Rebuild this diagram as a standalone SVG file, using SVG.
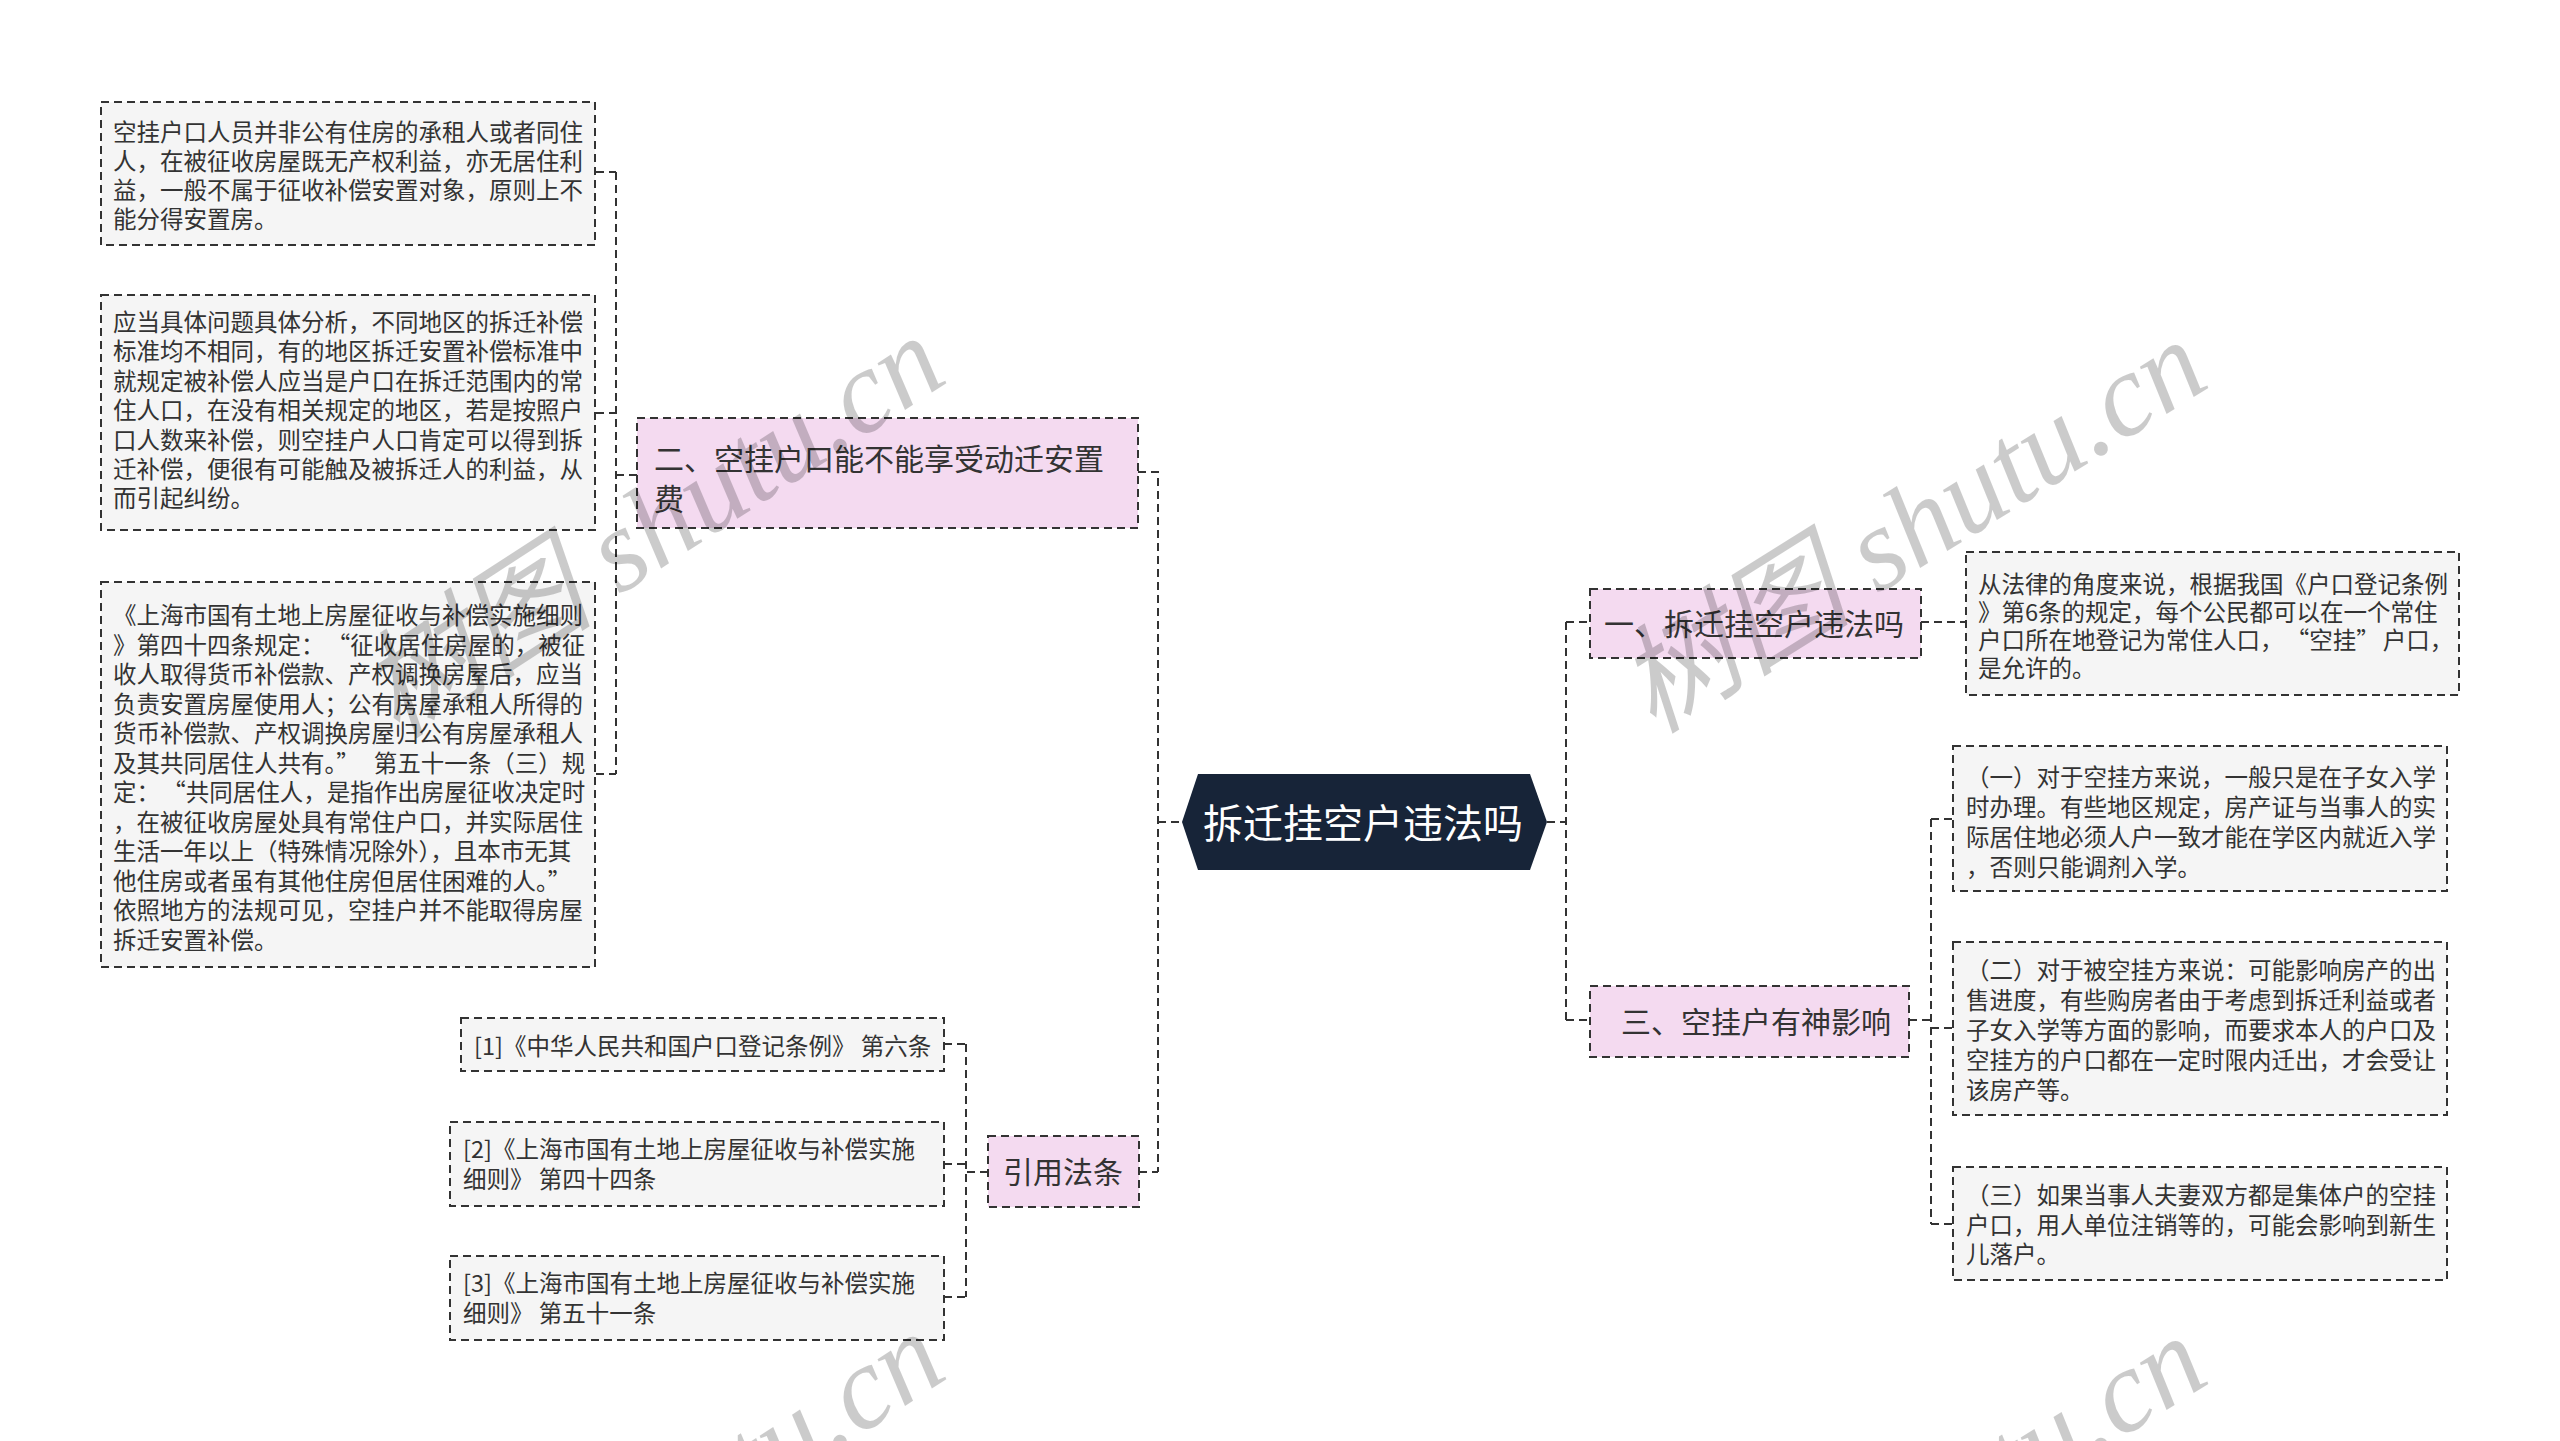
<svg xmlns="http://www.w3.org/2000/svg" width="2560" height="1441" viewBox="0 0 2560 1441">
<style>
.box{fill:#f5f5f5;stroke:#333;stroke-width:2;stroke-dasharray:8 5}
.pink{fill:#f4daf0;stroke:#333;stroke-width:2;stroke-dasharray:8 5}
.root{fill:#172438}
.t{font-family:"Noto Sans CJK SC","Liberation Sans",sans-serif;font-size:23.5px;fill:#333}
.h{font-family:"Noto Sans CJK SC","Liberation Sans",sans-serif;font-size:30px;fill:#333}
.rt{font-family:"Noto Sans CJK SC","Liberation Sans",sans-serif;font-size:40px;fill:#fff}
.con{fill:none;stroke:#333;stroke-width:2;stroke-dasharray:8 5}
.wm{font-family:"Liberation Serif","Noto Sans CJK SC",serif;font-style:italic;font-size:118px;fill:#000;opacity:0.2}
</style>
<rect width="2560" height="1441" fill="#fff"/>
<g id="connectors">
<path class="con" d="M637 475H616M616 172V774M596 172H616M596 413H616M596 774H616"/>
<path class="con" d="M1138 472H1158V1172M1158 822H1182M1139 1172H1158"/>
<path class="con" d="M988 1172H966M966 1044V1297M944 1044H966M944 1164H966M944 1297H966"/>
<path class="con" d="M1547 822H1566M1566 622V1020M1566 622H1590M1566 1020H1590"/>
<path class="con" d="M1921 622H1966"/>
<path class="con" d="M1909 1020H1931M1931 819V1224M1931 819H1953M1931 1028H1953M1931 1224H1953"/>
</g>
<g id="root">
<polygon class="root" points="1182,822 1198,774 1530,774 1547,822 1530,870 1198,870"/>
<text class="rt" x="1363" y="838" text-anchor="middle">拆迁挂空户违法吗</text>
</g>
<g id="n2">
<rect class="pink" x="637" y="418" width="501" height="110"/>
<text class="h" x="654" y="470">二、空挂户口能不能享受动迁安置</text>
<text class="h" x="654" y="510">费</text>
</g>
<g id="n2a">
<rect class="box" x="101" y="102" width="494" height="143"/>
<text class="t" x="113"><tspan x="113" y="141">空挂户口人员并非公有住房的承租人或者同住</tspan><tspan x="113" y="170">人，在被征收房屋既无产权利益，亦无居住利</tspan><tspan x="113" y="199">益，一般不属于征收补偿安置对象，原则上不</tspan><tspan x="113" y="228">能分得安置房。</tspan></text>
</g>
<g id="n2b">
<rect class="box" x="101" y="295" width="494" height="235"/>
<text class="t"><tspan x="113" y="331">应当具体问题具体分析，不同地区的拆迁补偿</tspan><tspan x="113" y="360.4">标准均不相同，有的地区拆迁安置补偿标准中</tspan><tspan x="113" y="389.8">就规定被补偿人应当是户口在拆迁范围内的常</tspan><tspan x="113" y="419.2">住人口，在没有相关规定的地区，若是按照户</tspan><tspan x="113" y="448.6">口人数来补偿，则空挂户人口肯定可以得到拆</tspan><tspan x="113" y="478">迁补偿，便很有可能触及被拆迁人的利益，从</tspan><tspan x="113" y="507.4">而引起纠纷。</tspan></text>
</g>
<g id="n2c">
<rect class="box" x="101" y="582" width="494" height="385"/>
<text class="t"><tspan x="113" y="624">《上海市国有土地上房屋征收与补偿实施细则</tspan><tspan x="113" y="653.5">》第四十四条规定：<tspan dx="14">“</tspan>征收居住房屋的，被征</tspan><tspan x="113" y="683">收人取得货币补偿款、产权调换房屋后，应当</tspan><tspan x="113" y="712.5">负责安置房屋使用人；公有房屋承租人所得的</tspan><tspan x="113" y="742">货币补偿款、产权调换房屋归公有房屋承租人</tspan><tspan x="113" y="771.5">及其共同居住人共有。”<tspan dx="14">第五十一条（三）规</tspan></tspan><tspan x="113" y="801">定：<tspan dx="14">“</tspan>共同居住人，是指作出房屋征收决定时</tspan><tspan x="113" y="830.5">，在被征收房屋处具有常住户口，并实际居住</tspan><tspan x="113" y="860">生活一年以上（特殊情况除外），且本市无其</tspan><tspan x="113" y="889.5">他住房或者虽有其他住房但居住困难的人。”</tspan><tspan x="113" y="919">依照地方的法规可见，空挂户并不能取得房屋</tspan><tspan x="113" y="948.5">拆迁安置补偿。</tspan></text>
</g>
<g id="n4">
<rect class="pink" x="988" y="1136" width="151" height="71"/>
<text class="h" x="1063" y="1183" text-anchor="middle">引用法条</text>
</g>
<g id="r1">
<rect class="box" x="461" y="1018" width="483" height="53"/>
<text class="t" x="474" y="1055">[1]《中华人民共和国户口登记条例》 第六条</text>
</g>
<g id="r2">
<rect class="box" x="450" y="1122" width="494" height="84"/>
<text class="t"><tspan x="463" y="1158">[2]《上海市国有土地上房屋征收与补偿实施</tspan><tspan x="463" y="1188">细则》 第四十四条</tspan></text>
</g>
<g id="r3">
<rect class="box" x="450" y="1256" width="494" height="84"/>
<text class="t"><tspan x="463" y="1292">[3]《上海市国有土地上房屋征收与补偿实施</tspan><tspan x="463" y="1322">细则》 第五十一条</tspan></text>
</g>
<g id="n1">
<rect class="pink" x="1590" y="589" width="331" height="69"/>
<text class="h" x="1604" y="635">一、拆迁挂空户违法吗</text>
</g>
<g id="n1a">
<rect class="box" x="1966" y="552" width="493" height="143"/>
<text class="t"><tspan x="1978" y="593">从法律的角度来说，根据我国《户口登记条例</tspan><tspan x="1978" y="621">》第6条的规定，每个公民都可以在一个常住</tspan><tspan x="1978" y="649">户口所在地登记为常住人口，<tspan dx="14">“</tspan>空挂”<tspan dx="3">户口，</tspan></tspan><tspan x="1978" y="677">是允许的。</tspan></text>
</g>
<g id="n3">
<rect class="pink" x="1590" y="986" width="319" height="71"/>
<text class="h" x="1621" y="1033">三、空挂户有神影响</text>
</g>
<g id="n3a">
<rect class="box" x="1953" y="746" width="494" height="145"/>
<text class="t"><tspan x="1966" y="785.5">（一）对于空挂方来说，一般只是在子女入学</tspan><tspan x="1966" y="815.5">时办理。有些地区规定，房产证与当事人的实</tspan><tspan x="1966" y="845.5">际居住地必须人户一致才能在学区内就近入学</tspan><tspan x="1966" y="875.5">，否则只能调剂入学。</tspan></text>
</g>
<g id="n3b">
<rect class="box" x="1953" y="942" width="494" height="173"/>
<text class="t"><tspan x="1966" y="979">（二）对于被空挂方来说：可能影响房产的出</tspan><tspan x="1966" y="1009">售进度，有些购房者由于考虑到拆迁利益或者</tspan><tspan x="1966" y="1039">子女入学等方面的影响，而要求本人的户口及</tspan><tspan x="1966" y="1069">空挂方的户口都在一定时限内迁出，才会受让</tspan><tspan x="1966" y="1099">该房产等。</tspan></text>
</g>
<g id="n3c">
<rect class="box" x="1953" y="1167" width="494" height="113"/>
<text class="t"><tspan x="1966" y="1204">（三）如果当事人夫妻双方都是集体户的空挂</tspan><tspan x="1966" y="1233.5">户口，用人单位注销等的，可能会影响到新生</tspan><tspan x="1966" y="1263">儿落户。</tspan></text>
</g>
<g id="watermarks">
<text class="wm" transform="translate(674,560) rotate(-33)" text-anchor="middle" textLength="660" lengthAdjust="spacingAndGlyphs">树图 shutu.cn</text>
<text class="wm" transform="translate(1933,560) rotate(-32)" text-anchor="middle" textLength="660" lengthAdjust="spacingAndGlyphs">树图 shutu.cn</text>
<text class="wm" transform="translate(674,1556) rotate(-33)" text-anchor="middle" textLength="660" lengthAdjust="spacingAndGlyphs">树图 shutu.cn</text>
<text class="wm" transform="translate(1933,1556) rotate(-32)" text-anchor="middle" textLength="660" lengthAdjust="spacingAndGlyphs">树图 shutu.cn</text>
</g>
</svg>
